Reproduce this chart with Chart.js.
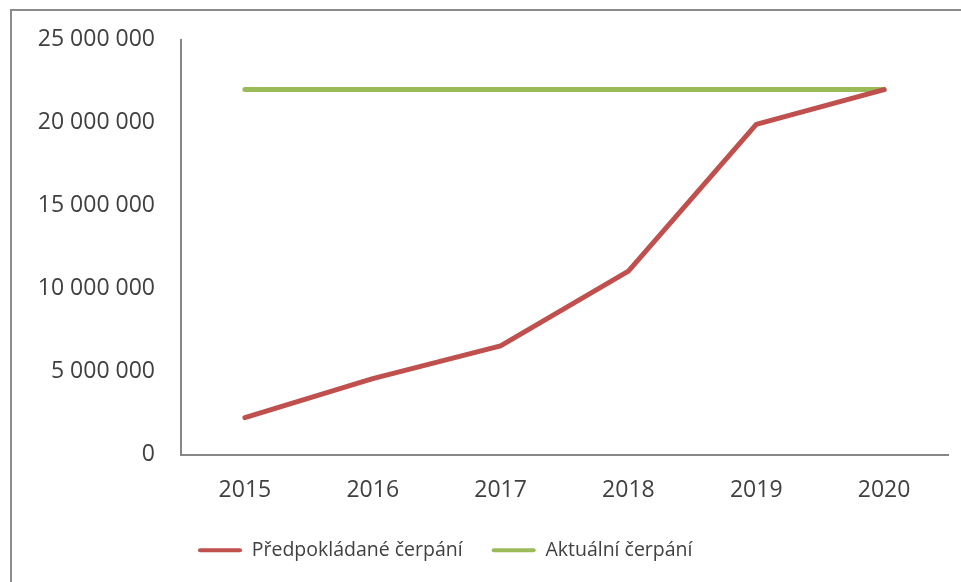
<!DOCTYPE html>
<html>
<head>
<meta charset="utf-8">
<script src="https://cdn.jsdelivr.net/npm/chart.js@4.4.1/dist/chart.umd.min.js"></script>
<style>
  html, body { margin: 0; padding: 0; background: #fff; }
  #wrap { position: relative; width: 961px; height: 582px; }
  #frame {
    position: absolute; left: 10px; top: 9px; right: 0; bottom: 0;
    border-left: 2px solid #8c8c8c; border-top: 2px solid #8c8c8c;
  }
  #chart { position: absolute; left: 0; top: 0; }
</style>
</head>
<body>
<div id="wrap">
  <div id="frame"></div>
  <canvas id="chart" width="961" height="582"></canvas>
</div>
<script>
const years = ['2015', '2016', '2017', '2018', '2019', '2020'];
const expected = [2220000, 4570000, 6550000, 11060000, 19900000, 22000000];
const actual = [22000000, 22000000, 22000000, 22000000, 22000000, 22000000];
const seriesNames = ['Předpokládané čerpání', 'Aktuální čerpání'];

const textColor = '#404040';
const axisColor = '#868686';
const family = "'Open Sans', 'Noto Sans', sans-serif";
const tickFont = { family: family, size: 23 };
const legendFont = { family: family, size: 19.5 };

// nudge the legend to sit where the original one does
const legendShift = {
  id: 'legendShift',
  afterLayout(chart) {
    chart.legend.left = 169;
  }
};

const ctx = document.getElementById('chart').getContext('2d');
new Chart(ctx, {
  type: 'line',
  data: {
    labels: years,
    datasets: [{
      label: seriesNames[0],
      data: expected,
      borderColor: '#C0504D',
      backgroundColor: '#C0504D',
      borderWidth: 5,
      borderCapStyle: 'round',
      borderJoinStyle: 'round',
      pointRadius: 0,
      tension: 0
    }, {
      label: seriesNames[1],
      data: actual,
      borderColor: '#9BBB59',
      backgroundColor: '#9BBB59',
      borderWidth: 5,
      borderCapStyle: 'round',
      pointRadius: 0,
      tension: 0
    }]
  },
  options: {
    responsive: false,
    animation: false,
    layout: { padding: { left: 0, top: 38, right: 13, bottom: 12 } },
    plugins: {
      tooltip: { enabled: false },
      legend: {
        position: 'bottom',
        align: 'start',
        labels: {
          color: textColor,
          font: legendFont,
          boxWidth: 44,
          boxHeight: 4,
          padding: 29,
          useBorderRadius: true,
          borderRadius: 2,
          generateLabels(chart) {
            return Chart.defaults.plugins.legend.labels.generateLabels(chart)
              .map(l => Object.assign(l, { lineWidth: 0 }));
          }
        }
      }
    },
    scales: {
      x: {
        offset: true,
        grid: { display: false, drawTicks: false, offset: true },
        border: { display: true, color: axisColor, width: 2 },
        ticks: { color: textColor, font: tickFont, padding: 22 },
        afterFit(scale) { scale.height = 57; }
      },
      y: {
        min: 0,
        max: 25000000,
        grid: { display: false, drawTicks: false },
        border: { display: true, color: axisColor, width: 2 },
        ticks: {
          stepSize: 5000000,
          color: textColor,
          font: tickFont,
          padding: 26,
          callback: v => v.toLocaleString('en-US').replace(/,/g, ' ')
        },
        afterFit(scale) { scale.width = 181; }
      }
    }
  },
  plugins: [legendShift]
});
</script>
</body>
</html>
